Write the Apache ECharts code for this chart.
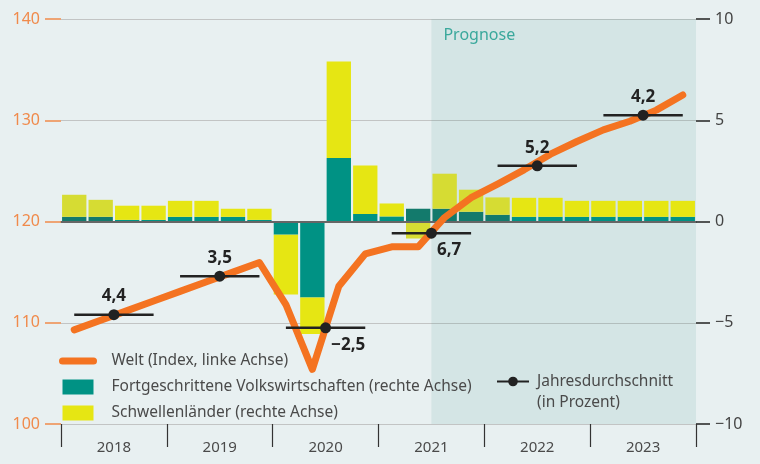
<!DOCTYPE html>
<html>
<head>
<meta charset="utf-8">
<script src="https://cdn.jsdelivr.net/npm/echarts@6/dist/echarts.min.js"></script>
<style>
  html, body { margin: 0; padding: 0; background: #e8f0f1; }
  #chart { width: 760px; height: 464px; }
</style>
</head>
<body>
<div id="chart"></div>
<script>
// Quartale 2018 bis 2023
const years = ['2018', '2019', '2020', '2021', '2022', '2023'];
const quarters = years.flatMap(y => ['Q1', 'Q2', 'Q3', 'Q4'].map(q => y + ' ' + q));

// Welt, Index (linke Achse)
const world = [109.3, 110.25, 111.2, 112.15, 113.1, 114.05, 115.0, 115.95,
  111.8, 105.4, 113.6, 116.8, 117.5, 117.5, 120.4, 122.35,
  123.7, 125.1, 126.65, 127.9, 129.05, 129.9, 131.0, 132.5];

// Beiträge in Prozentpunkten (rechte Achse)
const advanced = [0.23, 0.23, 0.08, 0.08, 0.23, 0.23, 0.23, 0.08,
  -0.65, -3.75, 3.14, 0.37, 0.25, 0.63, 0.63, 0.48,
  0.33, 0.23, 0.23, 0.23, 0.23, 0.23, 0.23, 0.23];
const emerging = [1.09, 0.84, 0.70, 0.70, 0.79, 0.79, 0.40, 0.55,
  -2.95, -1.80, 4.76, 2.39, 0.64, -0.84, 1.73, 1.09,
  0.86, 0.94, 0.94, 0.79, 0.79, 0.79, 0.79, 0.79];

// Jahresdurchschnitt: Wachstum (Label) und Lage auf der Indexachse
const avgGrowth = [4.4, 3.5, -2.5, 6.7, 5.2, 4.2];
const avgIndex = [110.8, 114.6, 109.5, 118.85, 125.5, 130.5];

const forecastStart = 14; // ab 2021 Q3
const mutedBars = [0, 1, 13, 14, 15, 16];

const WELT = 'Welt (Index, linke Achse)';
const FORT = 'Fortgeschrittene Volkswirtschaften (rechte Achse)';
const SCHW = 'Schwellenländer (rechte Achse)';
const AVG = 'Jahresdurchschnitt\n(in Prozent)';

const font = 'Noto Sans';
const fmt = v => String(v).replace('.', ',').replace('-', '\u2212');

const avgData = [];
avgGrowth.forEach((g, i) => {
  const y = avgIndex[i];
  const below = g < 0 || i === 3;
  avgData.push({ value: [4 * i + 0.5, y], symbol: 'none' });
  avgData.push({
    value: [4 * i + 2, y],
    label: below
      ? { show: true, position: [11, 22.5], align: 'left', verticalAlign: 'middle', formatter: fmt(g) }
      : { show: true, position: 'top', distance: 4, formatter: fmt(g) }
  });
  avgData.push({ value: [4 * i + 3.5, y], symbol: 'none' });
  avgData.push({ value: [4 * i + 4, '-'], symbol: 'none' });
});

const chart = echarts.init(document.getElementById('chart'));
chart.setOption({
  backgroundColor: '#e8f0f1',
  animation: false,
  textStyle: { fontFamily: font },
  grid: { left: 61, right: 64, top: 19, bottom: 40 },
  legend: [
    {
      left: 59, top: 353, orient: 'vertical', padding: 0,
      itemWidth: 31, itemHeight: 15, itemGap: 10,
      textStyle: { fontSize: 15.5, color: '#4a4a4a', lineHeight: 15, padding: [0, 0, 0, 13] },
      data: [
        { name: WELT, itemStyle: { opacity: 0 }, lineStyle: { width: 7, cap: 'round', color: '#f47321' } },
        { name: FORT, icon: 'rect' },
        { name: SCHW, icon: 'rect' }
      ]
    },
    {
      left: 496, top: 350, padding: 0,
      itemWidth: 32, itemHeight: 12,
      formatter: name => '\n' + name,
      textStyle: { fontSize: 15.5, color: '#4a4a4a', lineHeight: 21, padding: [0, 0, 0, 3] },
      data: [AVG]
    }
  ],
  xAxis: [
    {
      type: 'category',
      data: quarters,
      boundaryGap: true,
      axisLine: { lineStyle: { color: '#444', width: 1.5 } },
      axisTick: { interval: 0, length: 12, lineStyle: { color: '#333', width: 1.2 } },
      axisLabel: {
        interval: 0, margin: 16, fontSize: 15, color: '#4a4a4a',
        padding: [0, 0, 0, 26.5],
        formatter: (v, i) => (i % 4 === 1 ? v.slice(0, 4) : '')
      },
      splitLine: { show: false }
    },
    {
      type: 'value', position: 'bottom', min: 0, max: 24, interval: 4,
      axisLine: { show: false },
      axisTick: { show: true, length: 23, lineStyle: { color: '#333', width: 1.2 } },
      axisLabel: { show: false },
      splitLine: { show: false }
    }
  ],
  yAxis: [
    {
      type: 'value', position: 'left', min: 100, max: 140, interval: 10,
      axisLine: { show: false },
      axisTick: { show: true, length: 16, lineStyle: { color: '#f08a4b', width: 1.5 } },
      axisLabel: { margin: 21, fontSize: 16, color: '#f08a4b' },
      splitLine: { lineStyle: { color: '#c2c4c4', width: 1.2 } }
    },
    {
      type: 'value', position: 'right', min: -10, max: 10, interval: 5,
      axisLine: { show: false },
      axisTick: { show: true, length: 14, lineStyle: { color: '#222', width: 1.5 } },
      axisLabel: { margin: 19, fontSize: 16, color: '#444', formatter: v => fmt(v) },
      splitLine: { show: false }
    }
  ],
  series: [
    {
      name: FORT, type: 'bar', stack: 'beitrag', xAxisIndex: 0, yAxisIndex: 1,
      barCategoryGap: '8%', z: 2,
      itemStyle: { color: '#009284' },
      data: advanced.map((v, i) => ({ value: v, itemStyle: { color: mutedBars.includes(i) ? '#137a6c' : '#009284' } })),
      markLine: {
        silent: true, symbol: 'none', z: 3,
        label: { show: false },
        lineStyle: { color: '#666', width: 2, type: 'solid' },
        data: [{ yAxis: 0 }]
      }
    },
    {
      name: SCHW, type: 'bar', stack: 'beitrag', xAxisIndex: 0, yAxisIndex: 1,
      barCategoryGap: '8%', z: 2,
      itemStyle: { color: '#e6e613' },
      data: emerging.map((v, i) => ({ value: v, itemStyle: { color: mutedBars.includes(i) ? '#d6dc33' : '#e6e613' } }))
    },
    {
      name: WELT, type: 'line', xAxisIndex: 0, yAxisIndex: 0, z: 4,
      symbol: 'none',
      itemStyle: { color: '#f47321' },
      lineStyle: { color: '#f47321', width: 7, cap: 'round', join: 'round' },
      data: world
    },
    {
      name: AVG, type: 'line', xAxisIndex: 1, yAxisIndex: 0, z: 5,
      symbol: 'circle', symbolSize: 11, showSymbol: true,
      connectNulls: false,
      itemStyle: { color: '#222' },
      lineStyle: { color: '#222', width: 2.5 },
      label: { show: false, fontSize: 17, fontWeight: 'bold', color: '#222' },
      data: avgData,
      markArea: {
        silent: true, z: 1,
        itemStyle: { color: 'rgba(42,140,131,0.1)' },
        label: { show: true, position: 'insideTopLeft', offset: [7, 3], color: '#3aa89c', fontSize: 16 },
        data: [[{ name: 'Prognose', xAxis: forecastStart }, { xAxis: 24 }]]
      }
    }
  ]
});
</script>
</body>
</html>
